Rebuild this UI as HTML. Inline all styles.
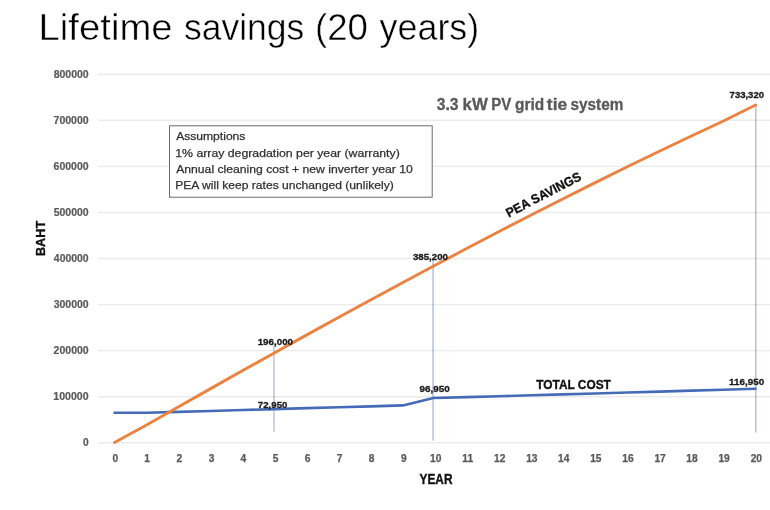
<!DOCTYPE html>
<html><head><meta charset="utf-8"><style>
html,body{margin:0;padding:0;background:#fff;width:770px;height:510px;overflow:hidden;font-family:"Liberation Sans",sans-serif;}
svg{display:block;will-change:transform;}
</style></head><body>
<svg width="770" height="510" viewBox="0 0 770 510">
<rect width="770" height="510" fill="#ffffff"/>
<line x1="274" y1="344.7" x2="274" y2="431.8" stroke="#c3cadd" stroke-width="1.6"/>
<line x1="433.1" y1="259.6" x2="433.1" y2="440.5" stroke="#b6c3e2" stroke-width="1.6"/>
<line x1="755.8" y1="106" x2="755.8" y2="432.4" stroke="#bfc1e0" stroke-width="1.6"/>
<line x1="98" y1="442.80" x2="770" y2="442.80" stroke="#000000" stroke-opacity="0.08" stroke-width="1.4"/>
<line x1="98" y1="396.73" x2="770" y2="396.73" stroke="#000000" stroke-opacity="0.08" stroke-width="1.4"/>
<line x1="98" y1="350.66" x2="770" y2="350.66" stroke="#000000" stroke-opacity="0.08" stroke-width="1.4"/>
<line x1="98" y1="304.59" x2="770" y2="304.59" stroke="#000000" stroke-opacity="0.08" stroke-width="1.4"/>
<line x1="98" y1="258.52" x2="770" y2="258.52" stroke="#000000" stroke-opacity="0.08" stroke-width="1.4"/>
<line x1="98" y1="212.45" x2="770" y2="212.45" stroke="#000000" stroke-opacity="0.08" stroke-width="1.4"/>
<line x1="98" y1="166.38" x2="770" y2="166.38" stroke="#000000" stroke-opacity="0.08" stroke-width="1.4"/>
<line x1="98" y1="120.31" x2="770" y2="120.31" stroke="#000000" stroke-opacity="0.08" stroke-width="1.4"/>
<line x1="98" y1="74.24" x2="770" y2="74.24" stroke="#000000" stroke-opacity="0.08" stroke-width="1.4"/>
<text x="82.95" y="446.10" font-family="Liberation Sans, sans-serif" font-weight="bold" font-size="10.2" fill="#595959" textLength="5.67" lengthAdjust="spacingAndGlyphs" stroke="#595959" stroke-width="0.2">0</text>
<text x="53.34" y="400.03" font-family="Liberation Sans, sans-serif" font-weight="bold" font-size="10.2" fill="#595959" textLength="35.31" lengthAdjust="spacingAndGlyphs" stroke="#595959" stroke-width="0.2">100000</text>
<text x="53.63" y="353.96" font-family="Liberation Sans, sans-serif" font-weight="bold" font-size="10.2" fill="#595959" textLength="35.01" lengthAdjust="spacingAndGlyphs" stroke="#595959" stroke-width="0.2">200000</text>
<text x="53.76" y="307.89" font-family="Liberation Sans, sans-serif" font-weight="bold" font-size="10.2" fill="#595959" textLength="34.87" lengthAdjust="spacingAndGlyphs" stroke="#595959" stroke-width="0.2">300000</text>
<text x="53.84" y="261.82" font-family="Liberation Sans, sans-serif" font-weight="bold" font-size="10.2" fill="#595959" textLength="34.79" lengthAdjust="spacingAndGlyphs" stroke="#595959" stroke-width="0.2">400000</text>
<text x="53.69" y="215.75" font-family="Liberation Sans, sans-serif" font-weight="bold" font-size="10.2" fill="#595959" textLength="34.95" lengthAdjust="spacingAndGlyphs" stroke="#595959" stroke-width="0.2">500000</text>
<text x="53.61" y="169.68" font-family="Liberation Sans, sans-serif" font-weight="bold" font-size="10.2" fill="#595959" textLength="35.03" lengthAdjust="spacingAndGlyphs" stroke="#595959" stroke-width="0.2">600000</text>
<text x="53.55" y="123.61" font-family="Liberation Sans, sans-serif" font-weight="bold" font-size="10.2" fill="#595959" textLength="35.09" lengthAdjust="spacingAndGlyphs" stroke="#595959" stroke-width="0.2">700000</text>
<text x="53.66" y="77.54" font-family="Liberation Sans, sans-serif" font-weight="bold" font-size="10.2" fill="#595959" textLength="34.98" lengthAdjust="spacingAndGlyphs" stroke="#595959" stroke-width="0.2">800000</text>
<text x="112.47" y="461.90" font-family="Liberation Sans, sans-serif" font-weight="bold" font-size="10.2" fill="#595959" textLength="5.67" lengthAdjust="spacingAndGlyphs" stroke="#595959" stroke-width="0.25">0</text>
<text x="144.34" y="461.90" font-family="Liberation Sans, sans-serif" font-weight="bold" font-size="10.2" fill="#595959" textLength="5.67" lengthAdjust="spacingAndGlyphs" stroke="#595959" stroke-width="0.25">1</text>
<text x="176.58" y="461.90" font-family="Liberation Sans, sans-serif" font-weight="bold" font-size="10.2" fill="#595959" textLength="5.67" lengthAdjust="spacingAndGlyphs" stroke="#595959" stroke-width="0.25">2</text>
<text x="208.68" y="461.90" font-family="Liberation Sans, sans-serif" font-weight="bold" font-size="10.2" fill="#595959" textLength="5.67" lengthAdjust="spacingAndGlyphs" stroke="#595959" stroke-width="0.25">3</text>
<text x="240.62" y="461.90" font-family="Liberation Sans, sans-serif" font-weight="bold" font-size="10.2" fill="#595959" textLength="5.67" lengthAdjust="spacingAndGlyphs" stroke="#595959" stroke-width="0.25">4</text>
<text x="272.71" y="461.90" font-family="Liberation Sans, sans-serif" font-weight="bold" font-size="10.2" fill="#595959" textLength="5.67" lengthAdjust="spacingAndGlyphs" stroke="#595959" stroke-width="0.25">5</text>
<text x="304.76" y="461.90" font-family="Liberation Sans, sans-serif" font-weight="bold" font-size="10.2" fill="#595959" textLength="5.67" lengthAdjust="spacingAndGlyphs" stroke="#595959" stroke-width="0.25">6</text>
<text x="336.82" y="461.90" font-family="Liberation Sans, sans-serif" font-weight="bold" font-size="10.2" fill="#595959" textLength="5.67" lengthAdjust="spacingAndGlyphs" stroke="#595959" stroke-width="0.25">7</text>
<text x="368.86" y="461.90" font-family="Liberation Sans, sans-serif" font-weight="bold" font-size="10.2" fill="#595959" textLength="5.67" lengthAdjust="spacingAndGlyphs" stroke="#595959" stroke-width="0.25">8</text>
<text x="400.92" y="461.90" font-family="Liberation Sans, sans-serif" font-weight="bold" font-size="10.2" fill="#595959" textLength="5.67" lengthAdjust="spacingAndGlyphs" stroke="#595959" stroke-width="0.25">9</text>
<text x="430.02" y="461.90" font-family="Liberation Sans, sans-serif" font-weight="bold" font-size="10.2" fill="#595959" textLength="11.35" lengthAdjust="spacingAndGlyphs" stroke="#595959" stroke-width="0.25">10</text>
<text x="462.29" y="461.90" font-family="Liberation Sans, sans-serif" font-weight="bold" font-size="10.2" fill="#595959" textLength="10.78" lengthAdjust="spacingAndGlyphs" stroke="#595959" stroke-width="0.25">11</text>
<text x="494.11" y="461.90" font-family="Liberation Sans, sans-serif" font-weight="bold" font-size="10.2" fill="#595959" textLength="11.35" lengthAdjust="spacingAndGlyphs" stroke="#595959" stroke-width="0.25">12</text>
<text x="526.15" y="461.90" font-family="Liberation Sans, sans-serif" font-weight="bold" font-size="10.2" fill="#595959" textLength="11.35" lengthAdjust="spacingAndGlyphs" stroke="#595959" stroke-width="0.25">13</text>
<text x="558.05" y="461.90" font-family="Liberation Sans, sans-serif" font-weight="bold" font-size="10.2" fill="#595959" textLength="11.35" lengthAdjust="spacingAndGlyphs" stroke="#595959" stroke-width="0.25">14</text>
<text x="590.21" y="461.90" font-family="Liberation Sans, sans-serif" font-weight="bold" font-size="10.2" fill="#595959" textLength="11.35" lengthAdjust="spacingAndGlyphs" stroke="#595959" stroke-width="0.25">15</text>
<text x="622.30" y="461.90" font-family="Liberation Sans, sans-serif" font-weight="bold" font-size="10.2" fill="#595959" textLength="11.35" lengthAdjust="spacingAndGlyphs" stroke="#595959" stroke-width="0.25">16</text>
<text x="654.39" y="461.90" font-family="Liberation Sans, sans-serif" font-weight="bold" font-size="10.2" fill="#595959" textLength="11.35" lengthAdjust="spacingAndGlyphs" stroke="#595959" stroke-width="0.25">17</text>
<text x="686.37" y="461.90" font-family="Liberation Sans, sans-serif" font-weight="bold" font-size="10.2" fill="#595959" textLength="11.35" lengthAdjust="spacingAndGlyphs" stroke="#595959" stroke-width="0.25">18</text>
<text x="718.45" y="461.90" font-family="Liberation Sans, sans-serif" font-weight="bold" font-size="10.2" fill="#595959" textLength="11.35" lengthAdjust="spacingAndGlyphs" stroke="#595959" stroke-width="0.25">19</text>
<text x="750.66" y="461.90" font-family="Liberation Sans, sans-serif" font-weight="bold" font-size="10.2" fill="#595959" textLength="11.35" lengthAdjust="spacingAndGlyphs" stroke="#595959" stroke-width="0.25">20</text>
<rect x="169.5" y="125.8" width="262.7" height="71.4" fill="#ffffff" stroke="#6b6b6b" stroke-width="1"/>
<text x="176.17" y="140.40" font-family="Liberation Sans, sans-serif" font-size="11.4" fill="#303030" textLength="69.25" lengthAdjust="spacingAndGlyphs" stroke="#303030" stroke-width="0.25">Assumptions</text>
<text x="175.28" y="156.70" font-family="Liberation Sans, sans-serif" font-size="11.4" fill="#303030" textLength="224.48" lengthAdjust="spacingAndGlyphs" stroke="#303030" stroke-width="0.25">1% array degradation per year (warranty)</text>
<text x="176.17" y="172.80" font-family="Liberation Sans, sans-serif" font-size="11.4" fill="#303030" textLength="236.70" lengthAdjust="spacingAndGlyphs" stroke="#303030" stroke-width="0.25">Annual cleaning cost + new inverter year 10</text>
<text x="175.20" y="188.60" font-family="Liberation Sans, sans-serif" font-size="11.4" fill="#303030" textLength="218.54" lengthAdjust="spacingAndGlyphs" stroke="#303030" stroke-width="0.25">PEA will keep rates unchanged (unlikely)</text>
<polyline points="114.50,412.78 146.55,412.78 178.60,411.86 210.65,410.93 242.70,410.01 274.75,409.09 306.80,408.17 338.85,407.25 370.90,406.33 402.95,405.41 433.30,398.04 467.05,397.11 499.10,396.19 531.15,395.27 563.20,394.35 595.25,393.43 627.30,392.51 659.35,391.59 691.40,390.66 723.45,389.74 755.50,388.82" fill="none" stroke="#466bb6" stroke-width="2.6" stroke-linejoin="round" stroke-linecap="round"/>
<polyline points="114.50,442.50 146.55,424.99 178.60,406.75 210.65,388.62 242.70,370.59 274.75,352.67 306.80,334.89 338.85,317.25 370.90,299.76 402.95,282.44 435.00,265.29 467.05,248.34 499.10,231.58 531.15,215.04 563.20,198.73 595.25,182.65 627.30,166.82 659.35,151.26 691.40,135.96 723.45,120.96 755.60,105.00" fill="none" stroke="#ec8240" stroke-width="2.9" stroke-linejoin="round" stroke-linecap="round"/>
<text x="257.69" y="344.90" font-family="Liberation Sans, sans-serif" font-weight="bold" font-size="9.6" fill="#1a1a1a" textLength="35.32" lengthAdjust="spacingAndGlyphs" stroke="#1a1a1a" stroke-width="0.3">196,000</text>
<text x="412.98" y="259.70" font-family="Liberation Sans, sans-serif" font-weight="bold" font-size="9.6" fill="#1a1a1a" textLength="34.93" lengthAdjust="spacingAndGlyphs" stroke="#1a1a1a" stroke-width="0.3">385,200</text>
<text x="729.60" y="97.50" font-family="Liberation Sans, sans-serif" font-weight="bold" font-size="9.6" fill="#1a1a1a" textLength="34.41" lengthAdjust="spacingAndGlyphs" stroke="#1a1a1a" stroke-width="0.3">733,320</text>
<text x="257.89" y="407.60" font-family="Liberation Sans, sans-serif" font-weight="bold" font-size="9.6" fill="#1a1a1a" textLength="29.51" lengthAdjust="spacingAndGlyphs" stroke="#1a1a1a" stroke-width="0.3">72,950</text>
<text x="419.55" y="392.40" font-family="Liberation Sans, sans-serif" font-weight="bold" font-size="9.6" fill="#1a1a1a" textLength="30.25" lengthAdjust="spacingAndGlyphs" stroke="#1a1a1a" stroke-width="0.3">96,950</text>
<text x="729.08" y="385.00" font-family="Liberation Sans, sans-serif" font-weight="bold" font-size="9.6" fill="#1a1a1a" textLength="35.13" lengthAdjust="spacingAndGlyphs" stroke="#1a1a1a" stroke-width="0.3">116,950</text>
<text x="436.75" y="109.80" font-family="Liberation Sans, sans-serif" font-weight="bold" font-size="15.6" fill="#595959" textLength="21.70" lengthAdjust="spacingAndGlyphs" stroke="#595959" stroke-width="0.3">3.3</text>
<text x="462.62" y="109.80" font-family="Liberation Sans, sans-serif" font-weight="bold" font-size="15.6" fill="#595959" textLength="25.22" lengthAdjust="spacingAndGlyphs" stroke="#595959" stroke-width="0.3">kW</text>
<text x="491.29" y="109.80" font-family="Liberation Sans, sans-serif" font-weight="bold" font-size="15.6" fill="#595959" textLength="20.01" lengthAdjust="spacingAndGlyphs" stroke="#595959" stroke-width="0.3">PV</text>
<text x="515.08" y="109.80" font-family="Liberation Sans, sans-serif" font-weight="bold" font-size="15.6" fill="#595959" textLength="29.14" lengthAdjust="spacingAndGlyphs" stroke="#595959" stroke-width="0.3">grid</text>
<text x="546.88" y="109.80" font-family="Liberation Sans, sans-serif" font-weight="bold" font-size="15.6" fill="#595959" textLength="20.32" lengthAdjust="spacingAndGlyphs" stroke="#595959" stroke-width="0.3">tie</text>
<text x="570.56" y="109.80" font-family="Liberation Sans, sans-serif" font-weight="bold" font-size="15.6" fill="#595959" textLength="52.78" lengthAdjust="spacingAndGlyphs" stroke="#595959" stroke-width="0.3">system</text>
<text x="536.28" y="388.60" font-family="Liberation Sans, sans-serif" font-weight="bold" font-size="13.3" fill="#111111" textLength="74.54" lengthAdjust="spacingAndGlyphs" stroke="#111111" stroke-width="0.35">TOTAL COST</text>
<text x="419.49" y="483.80" font-family="Liberation Sans, sans-serif" font-weight="bold" font-size="14.0" fill="#111111" textLength="32.99" lengthAdjust="spacingAndGlyphs" stroke="#111111" stroke-width="0.35">YEAR</text>
<text transform="rotate(-90)" x="-256.06" y="45.40" font-family="Liberation Sans, sans-serif" font-weight="bold" font-size="13.4" fill="#111111" textLength="35.18" lengthAdjust="spacingAndGlyphs" stroke="#111111" stroke-width="0.35">BAHT</text>
<text transform="translate(509.5,217.3) rotate(-27.5)" x="-0.83" y="0.00" font-family="Liberation Sans, sans-serif" font-weight="bold" font-size="13.0" fill="#111111" textLength="82.81" lengthAdjust="spacingAndGlyphs" stroke="#111111" stroke-width="0.35">PEA SAVINGS</text>
<text x="38.54" y="39.80" font-family="Liberation Sans, sans-serif" font-size="37.4" fill="#000000" textLength="134.05" lengthAdjust="spacingAndGlyphs" stroke="#ffffff" stroke-width="0.5">Lifetime</text>
<text x="183.92" y="39.80" font-family="Liberation Sans, sans-serif" font-size="37.4" fill="#000000" textLength="120.34" lengthAdjust="spacingAndGlyphs" stroke="#ffffff" stroke-width="0.5">savings</text>
<text x="315.01" y="39.80" font-family="Liberation Sans, sans-serif" font-size="37.4" fill="#000000" textLength="52.98" lengthAdjust="spacingAndGlyphs" stroke="#ffffff" stroke-width="0.5">(20</text>
<text x="379.51" y="39.80" font-family="Liberation Sans, sans-serif" font-size="37.4" fill="#000000" textLength="99.78" lengthAdjust="spacingAndGlyphs" stroke="#ffffff" stroke-width="0.5">years)</text>
</svg>
</body></html>
